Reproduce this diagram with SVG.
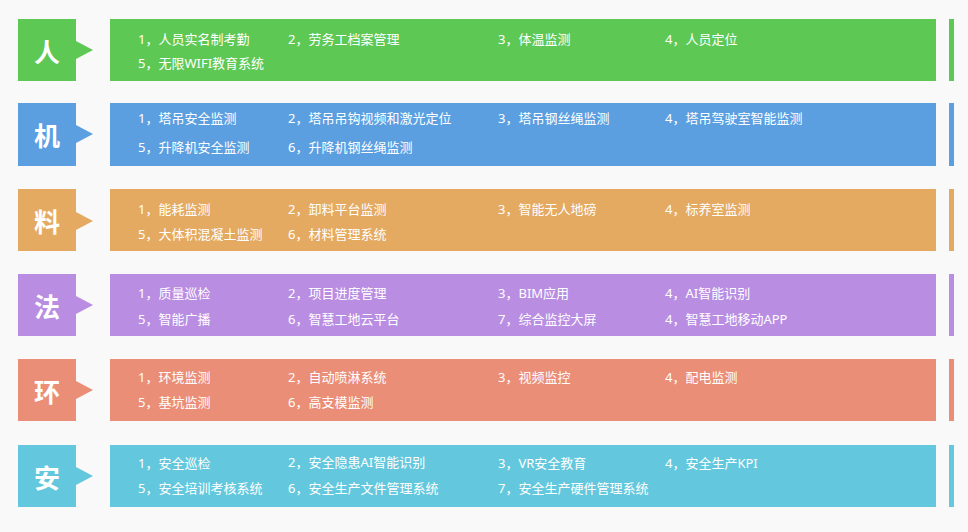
<svg xmlns="http://www.w3.org/2000/svg" width="968" height="532" viewBox="0 0 968 532">
<style>
.lbl{font-family:"Noto Sans CJK SC","Noto Sans",sans-serif;font-size:26px;font-weight:bold;fill:#fff;text-anchor:middle;dominant-baseline:central}
.t{font-family:"Noto Sans","Noto Sans CJK SC",sans-serif;font-size:13px;fill:#fff;dominant-baseline:central}
</style>
<rect width="968" height="532" fill="#f9f9f9"/>
<g id="row-ren" fill="#5ec855">
<rect x="18" y="19" width="58" height="62"/><polygon points="76,41 93,50 76,59"/>
<rect x="110" y="19" width="826" height="62"/><rect x="949" y="19" width="5" height="62"/>
<text class="lbl" x="47" y="50">人</text>
<text class="t" x="138" y="39">1，人员实名制考勤</text><text class="t" x="288" y="39">2，劳务工档案管理</text><text class="t" x="498" y="39">3，体温监测</text><text class="t" x="665" y="39">4，人员定位</text>
<text class="t" x="138" y="63">5，无限WIFI教育系统</text>
</g>
<g id="row-ji" fill="#5b9fe1">
<rect x="18" y="103" width="58" height="63"/><polygon points="76,125 93,134 76,143"/>
<rect x="110" y="103" width="826" height="63"/><rect x="949" y="103" width="5" height="63"/>
<text class="lbl" x="47" y="134">机</text>
<text class="t" x="138" y="118">1，塔吊安全监测</text><text class="t" x="288" y="118">2，塔吊吊钩视频和激光定位</text><text class="t" x="498" y="118">3，塔吊钢丝绳监测</text><text class="t" x="665" y="118">4，塔吊驾驶室智能监测</text>
<text class="t" x="138" y="147">5，升降机安全监测</text><text class="t" x="288" y="147">6，升降机钢丝绳监测</text>
</g>
<g id="row-liao" fill="#e4aa62">
<rect x="18" y="189" width="58" height="62"/><polygon points="76,212 93,221 76,230"/>
<rect x="110" y="189" width="826" height="62"/><rect x="949" y="189" width="5" height="62"/>
<text class="lbl" x="47" y="220">料</text>
<text class="t" x="138" y="209">1，能耗监测</text><text class="t" x="288" y="209">2，卸料平台监测</text><text class="t" x="498" y="209">3，智能无人地磅</text><text class="t" x="665" y="209">4，标养室监测</text>
<text class="t" x="138" y="234">5，大体积混凝土监测</text><text class="t" x="288" y="234">6，材料管理系统</text>
</g>
<g id="row-fa" fill="#b98de2">
<rect x="18" y="274" width="58" height="62"/><polygon points="76,296 93,305 76,314"/>
<rect x="110" y="274" width="826" height="62"/><rect x="949" y="274" width="5" height="62"/>
<text class="lbl" x="47" y="305">法</text>
<text class="t" x="138" y="293">1，质量巡检</text><text class="t" x="288" y="293">2，项目进度管理</text><text class="t" x="498" y="293">3，BIM应用</text><text class="t" x="665" y="293">4，AI智能识别</text>
<text class="t" x="138" y="319">5，智能广播</text><text class="t" x="288" y="319">6，智慧工地云平台</text><text class="t" x="498" y="319">7，综合监控大屏</text><text class="t" x="665" y="319">4，智慧工地移动APP</text>
</g>
<g id="row-huan" fill="#ea8e77">
<rect x="18" y="359" width="58" height="62"/><polygon points="76,381 93,390 76,399"/>
<rect x="110" y="359" width="826" height="62"/><rect x="949" y="359" width="5" height="62"/>
<text class="lbl" x="47" y="390">环</text>
<text class="t" x="138" y="377">1，环境监测</text><text class="t" x="288" y="377">2，自动喷淋系统</text><text class="t" x="498" y="377">3，视频监控</text><text class="t" x="665" y="377">4，配电监测</text>
<text class="t" x="138" y="402">5，基坑监测</text><text class="t" x="288" y="402">6，高支模监测</text>
</g>
<g id="row-an" fill="#63c8dd">
<rect x="18" y="445" width="58" height="62"/><polygon points="76,467 93,476 76,485"/>
<rect x="110" y="445" width="826" height="62"/><rect x="949" y="445" width="5" height="62"/>
<text class="lbl" x="47" y="476">安</text>
<text class="t" x="138" y="463">1，安全巡检</text><text class="t" x="288" y="462">2，安全隐患AI智能识别</text><text class="t" x="498" y="463">3，VR安全教育</text><text class="t" x="665" y="463">4，安全生产KPI</text>
<text class="t" x="138" y="488">5，安全培训考核系统</text><text class="t" x="288" y="488">6，安全生产文件管理系统</text><text class="t" x="498" y="488">7，安全生产硬件管理系统</text>
</g>
<g id="connectors"/>
</svg>
